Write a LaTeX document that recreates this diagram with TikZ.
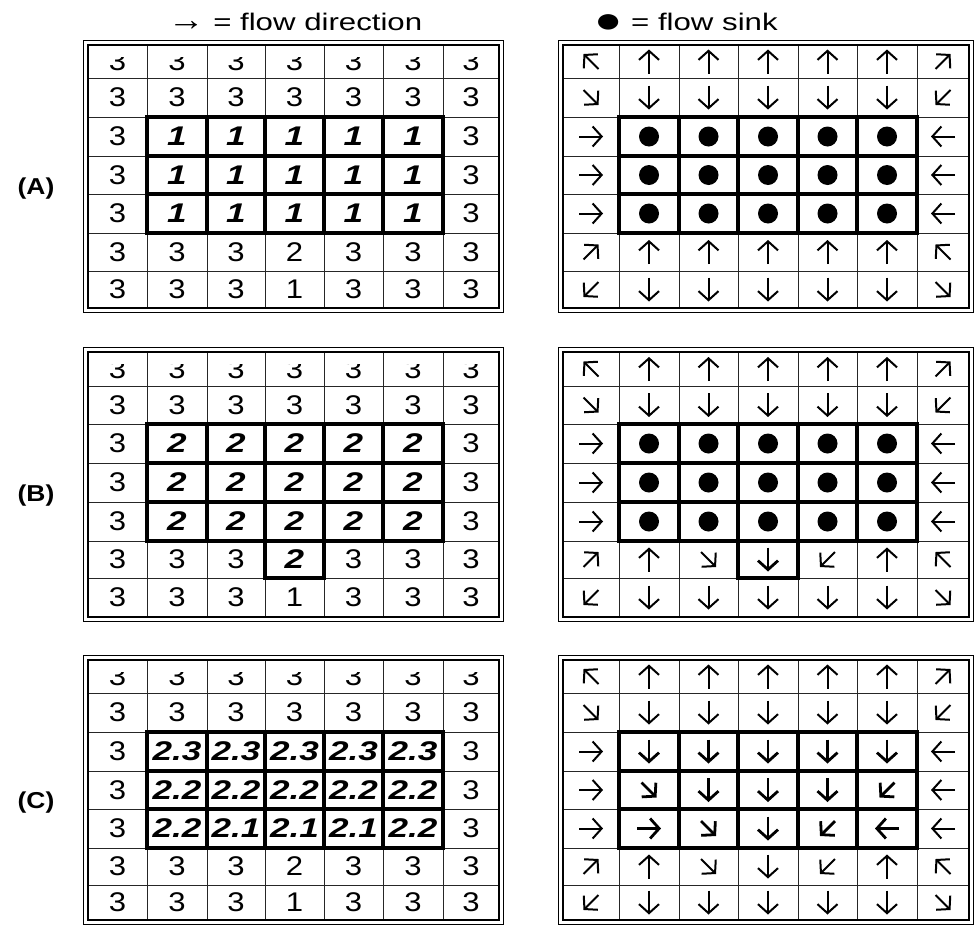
\documentclass[tikz,border=0pt]{standalone}
\usepackage{fontspec}
\setmainfont{Liberation Sans}
\newfontfamily\cellfont[FakeStretch=1.15]{Liberation Sans}
\newfontfamily\levelfont[FakeStretch=1.3]{Liberation Sans}
\newfontfamily\keyfont[FakeStretch=1.3]{Liberation Sans}
\usetikzlibrary{arrows.meta,calc}

% grid lines in px: left and right grids, the three panels
\def\colL{{88,147,207,265,324,383,443,499}}
\def\colR{{563,619,679,738,798,857,917,969}}
\def\rowA{{45,78,117,156,194,233,271,308}}
\def\rowB{{352,386,424,463,502,541,578,617}}
\def\rowC{{660,693,732,771,809,848,885,920}}

% flow arrow: [style] cell angle
\newcommand\flowarrow[3][flow]{%
  \pgfmathsetmacro\hlen{12-1.4*abs(sin(2*(#3)))}%
  \pgfmathsetmacro\aback{#3+180}%
  \draw[#1] ($(#2)+(\aback:\hlen pt)$) -- ($(#2)+(#3:\hlen pt)$);}

\begin{document}
\begin{tikzpicture}[x=1pt,y=-1pt,
    cellline/.style={line width=0.9pt,black!85},
    gridframe/.style={line width=1.3pt},
    outerframe/.style={line width=1.9pt},
    lowbox/.style={line width=3.3pt},
    plain/.style={font=\cellfont\fontsize{27}{27}\selectfont,inner sep=0pt},
    level/.style={font=\levelfont\bfseries\itshape\fontsize{27}{27}\selectfont,inner sep=0pt},
    flow/.style={line width=2pt,-{Straight Barb[length=9pt,width=20pt]}},
    bold flow/.style={flow,line width=2.8pt},
    tag/.style={font=\cellfont\bfseries\fontsize{23}{23}\selectfont,inner sep=0pt},
    key/.style={font=\keyfont\fontsize{24}{24}\selectfont,inner sep=0pt}]
\useasboundingbox (0,0) rectangle (974,929);

\node[key,anchor=base] (dirkey) at (295,30)
  {{\cellfont\fontsize{32}{32}\selectfont →} = flow direction};
\node[key,anchor=base west] (sinkkey) at (594,30)
  {\raisebox{-2pt}{\fontsize{36}{36}\selectfont ●} = flow sink};
\node[tag] (tagA) at (36,189) {(A)};
\node[tag] (tagB) at (36,496) {(B)};
\node[tag] (tagC) at (36,803) {(C)};

% frames, cell lines, cell centres
\foreach \bl/\Y in {A/\rowA,B/\rowB,C/\rowC}{
  \foreach \s/\X in {L/\colL,R/\colR}{
    \pgfmathsetmacro\xl{\X[0]}\pgfmathsetmacro\xr{\X[7]}
    \pgfmathsetmacro\yt{\Y[0]}\pgfmathsetmacro\yb{\Y[7]}
    \foreach \i in {1,...,6}{
      \pgfmathsetmacro\xk{\X[\i]}\pgfmathsetmacro\yk{\Y[\i]}
      \draw[cellline] (\xk,\yt) -- (\xk,\yb);
      \draw[cellline] (\xl,\yk) -- (\xr,\yk);}
    \draw[gridframe] (\xl,\yt) rectangle (\xr,\yb);
    \draw[outerframe] (\xl-4.5,\yt-4.5) rectangle (\xr+4.5,\yb+4.5);
    \foreach \r in {1,...,7}{\foreach \c in {1,...,7}{
      \pgfmathtruncatemacro\cm{\c-1}\pgfmathtruncatemacro\rm{\r-1}
      \pgfmathsetmacro\xa{\X[\cm]}\pgfmathsetmacro\xb{\X[\c]}
      \pgfmathsetmacro\ya{\Y[\rm]}\pgfmathsetmacro\yc{\Y[\r]}
      \coordinate (\bl\s-\r-\c) at ({(\xa+\xb)/2},{(\ya+\yc)/2});
      % thick boxes of the low cells
      \ifnum\r>2 \ifnum\r<6 \ifnum\c>1 \ifnum\c<7
        \draw[lowbox] (\xa,\ya) rectangle (\xb,\yc);
      \fi\fi\fi\fi}}}}
\foreach \X in {\colL,\colR}{
  \pgfmathsetmacro\xa{\X[3]}\pgfmathsetmacro\xb{\X[4]}
  \pgfmathsetmacro\ya{\rowB[5]}\pgfmathsetmacro\yc{\rowB[6]}
  \draw[lowbox] (\xa,\ya) rectangle (\xb,\yc);}

% elevations, left grids
\foreach \bl/\Y/\midst in {A/\rowA/plain,B/\rowB/level,C/\rowC/plain}{
  \pgfmathsetmacro\yt{\Y[0]}
  \begin{scope}
    \clip (80,\yt+12) rectangle (510,\yt+300);
    \foreach \r/\vals in {1/{3,3,3,3,3,3,3},2/{3,3,3,3,3,3,3},7/{3,3,3,1,3,3,3}}{
      \foreach \v [count=\c] in \vals {\node[plain] (\bl L-\r-\c-txt) at (\bl L-\r-\c) {\v};}}
    \foreach \c/\v in {1/3,2/3,3/3,5/3,6/3,7/3}{\node[plain] (\bl L-6-\c-txt) at (\bl L-6-\c) {\v};}
    \node[\midst] (\bl L-6-4-txt) at (\bl L-6-4) {2};
    \foreach \r in {3,4,5}{
      \node[plain] (\bl L-\r-1-txt) at (\bl L-\r-1) {3};
      \node[plain] (\bl L-\r-7-txt) at (\bl L-\r-7) {3};}
  \end{scope}}
\foreach \bl/\vals in {A/{{1,1,1,1,1},{1,1,1,1,1},{1,1,1,1,1}},
    B/{{2,2,2,2,2},{2,2,2,2,2},{2,2,2,2,2}},
    C/{{2.3,2.3,2.3,2.3,2.3},{2.2,2.2,2.2,2.2,2.2},{2.2,2.1,2.1,2.1,2.2}}}{
  \foreach \rowv [count=\i] in \vals {\foreach \v [count=\j] in \rowv {
    \pgfmathtruncatemacro\r{\i+2}\pgfmathtruncatemacro\c{\j+1}
    \node[level] (\bl L-\r-\c-txt) at (\bl L-\r-\c) {\v};}}}

% flow directions, right grids
\foreach \bl/\six/\midst in {A/{45,90,90,90,90,90,135}/flow,
    B/{45,90,315,270,225,90,135}/bold flow,C/{45,90,315,270,225,90,135}/flow}{
  \foreach \r/\vals in {1/{135,90,90,90,90,90,45},2/{315,270,270,270,270,270,225},
      7/{225,270,270,270,270,270,315}}{
    \foreach \a [count=\c] in \vals {\flowarrow{\bl R-\r-\c}{\a}}}
  \foreach \a [count=\c] in \six {\ifnum\c=4 \flowarrow[\midst]{\bl R-6-\c}{\a}\else\flowarrow{\bl R-6-\c}{\a}\fi}
  \foreach \r in {3,4,5}{\flowarrow{\bl R-\r-1}{0}\flowarrow{\bl R-\r-7}{180}}}
\foreach \bl in {A,B}{\foreach \r in {3,4,5}{\foreach \c in {2,...,6}{
  \fill (\bl R-\r-\c) circle[radius=10pt];}}}
\foreach \vals [count=\i] in {{270,270,270,270,270},{315,270,270,270,225},{0,315,270,225,180}}{
  \foreach \a [count=\j] in \vals {
    \pgfmathtruncatemacro\r{\i+2}\pgfmathtruncatemacro\c{\j+1}
    \flowarrow[bold flow]{CR-\r-\c}{\a}}}
\end{tikzpicture}
\end{document}
